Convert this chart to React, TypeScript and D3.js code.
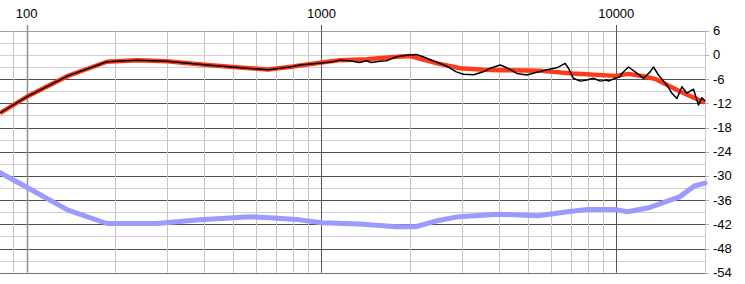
import React from "react";
import * as d3 from "d3";

// ---- data ----
const targetFreq = [81.2, 100, 138, 187, 237, 299, 409, 573, 659, 801, 1000, 1156, 1428, 1805, 2000, 2470, 2958, 3540, 4045, 5447, 7100, 9940, 11000, 12370, 13580, 14850, 16400, 18570, 20000];
const targetDb = [-14.4, -10.4, -5.2, -1.7, -1.3, -1.6, -2.5, -3.3, -3.6, -2.9, -1.9, -1.3, -1.1, -0.45, -0.3, -2.1, -3.3, -3.7, -3.8, -3.9, -4.6, -5.2, -4.7, -5.3, -6.0, -7.4, -9.0, -10.8, -11.8];

const measuredFreq = [81.2, 100, 138, 187, 237, 299, 409, 573, 659, 783, 844, 1000, 1094, 1153, 1246, 1348, 1420, 1476, 1577, 1661, 1797, 1943, 2100, 2211, 2390, 2652, 2866, 3030, 3279, 3543, 3734, 4038, 4255, 4599, 4973, 5378, 5815, 6286, 6708, 6884, 7157, 7543, 7948, 8368, 8818, 9291, 9408, 9914, 10310, 10447, 11001, 11590, 12370, 13030, 13370, 13910, 14850, 15440, 16060, 16700, 17360, 18280, 19010, 19520, 20000];
const measuredDb = [-14.4, -10.4, -5.2, -1.7, -1.3, -1.6, -2.5, -3.4, -3.7, -3.0, -2.5, -2.0, -1.7, -1.3, -1.45, -1.9, -1.45, -1.9, -1.6, -1.45, -0.45, -0.1, 0.1, -0.45, -1.45, -2.75, -4.2, -4.8, -4.9, -4.2, -3.3, -2.5, -3.2, -4.6, -5.0, -4.3, -3.7, -3.2, -2.1, -3.3, -5.8, -6.5, -6.2, -5.8, -6.5, -6.2, -6.5, -5.8, -5.4, -4.6, -3.0, -4.2, -5.8, -4.2, -3.0, -5.0, -7.5, -9.5, -10.8, -7.9, -9.5, -8.5, -12.4, -10.6, -11.4];

const lowerFreq = [81.2, 100, 138, 187, 276, 387, 573, 667, 844, 1000, 1348, 1800, 2087, 2440, 2923, 3985, 5430, 6840, 7980, 9850, 10900, 12900, 14200, 16400, 18400, 20000];
const lowerDb = [-29.2, -32.8, -38.5, -41.8, -41.8, -40.9, -40.1, -40.4, -40.9, -41.6, -41.9, -42.6, -42.6, -41.2, -40.1, -39.5, -39.9, -38.9, -38.3, -38.3, -38.9, -37.9, -36.8, -35.2, -32.5, -31.8];

const freqLabels = [100, 1000, 10000];
const dbLabels = [6, 0, -6, -12, -18, -24, -30, -36, -42, -48, -54];
const minorFreqs = [90, 200, 300, 400, 500, 600, 700, 800, 900, 2000, 3000, 4000, 5000, 6000, 7000, 8000, 9000, 20000];
const dbGrid = d3.range(6, -55, -3);

// ---- layout ----
const W = 745;
const H = 284;
const plotLeft = 0;
const plotRight = 705;
const plotTop = 30.7;
const plotBottom = 272.7;
const fMin = Math.pow(10, 2 - 26.7 / 294.7);

export default function App() {
  const x = d3.scaleLog().domain([fMin, 20000]).range([plotLeft, plotRight]);
  const y = d3.scaleLinear().domain([6, -54]).range([plotTop, plotBottom]);
  const px = (v: number) => Math.round(v) + 0.5;

  const line = d3
    .line<[number, number]>()
    .x((d) => x(d[0]))
    .y((d) => y(d[1]));

  const zip = (a: number[], b: number[]) => a.map((f, i) => [f, b[i]] as [number, number]);

  const hColor = (v: number) => {
    if (v === 6) return "#a0a0a0";
    if (v === -54) return "#707070";
    if (v % 6 === 0 && v !== 0) return "#505050";
    return "#cfcfcf";
  };

  const font = "'Liberation Sans', Arial, sans-serif";

  return (
    <svg
      width={W}
      height={H}
      style={{ position: "fixed", left: 0, top: 0, background: "#fff" }}
    >
      <rect x={0} y={0} width={W} height={H} fill="#fff" />
      {/* horizontal grid */}
      {dbGrid.map((v) => (
        <line
          key={"h" + v}
          x1={plotLeft}
          x2={plotRight}
          y1={px(y(v))}
          y2={px(y(v))}
          stroke={hColor(v)}
          strokeWidth={1}
        />
      ))}
      {/* minor vertical grid */}
      {minorFreqs.map((f) => (
        <line
          key={"v" + f}
          x1={px(x(f))}
          x2={px(x(f))}
          y1={plotTop}
          y2={plotBottom}
          stroke={f === 20000 ? "#c8c8c8" : "#c4c4c4"}
          strokeWidth={1}
        />
      ))}
      {/* major vertical grid */}
      {freqLabels.map((f) => (
        <line
          key={"m" + f}
          x1={px(x(f))}
          x2={px(x(f))}
          y1={25}
          y2={plotBottom}
          stroke={f === 100 ? "#909090" : "#555"}
          strokeWidth={f === 100 ? 1.5 : 1}
        />
      ))}
      {/* right ticks */}
      {dbLabels.map((v) => (
        <line
          key={"t" + v}
          x1={plotRight}
          x2={plotRight + 4}
          y1={px(y(v))}
          y2={px(y(v))}
          stroke="#b0b0b0"
        />
      ))}
      {/* labels */}
      {freqLabels.map((f) => (
        <text
          key={"fl" + f}
          x={x(f)}
          y={18}
          textAnchor="middle"
          fontFamily={font}
          fontSize={13}
          fill="#000"
        >
          {f}
        </text>
      ))}
      {dbLabels.map((v) => (
        <text
          key={"dl" + v}
          x={713}
          y={y(v)}
          dy="0.35em"
          textAnchor="start"
          fontFamily={font}
          fontSize={13}
          fill="#000"
        >
          {v}
        </text>
      ))}
      {/* series */}
      <path
        d={line(zip(lowerFreq, lowerDb)) || ""}
        fill="none"
        stroke="#9a9aff"
        strokeWidth={5}
        strokeLinejoin="round"
        strokeLinecap="round"
      />
      <path
        d={line(zip(targetFreq, targetDb)) || ""}
        fill="none"
        stroke="#ff3a1a"
        strokeWidth={4.5}
        strokeLinejoin="round"
      />
      <path
        d={line(zip(measuredFreq, measuredDb)) || ""}
        fill="none"
        stroke="#000"
        strokeWidth={1.5}
        strokeLinejoin="round"
      />
    </svg>
  );
}
